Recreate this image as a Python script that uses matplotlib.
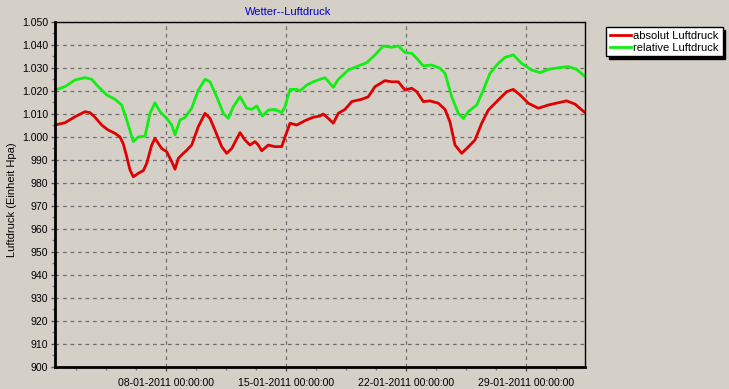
import numpy as np
import matplotlib
matplotlib.use("Agg")
import matplotlib.pyplot as plt
import matplotlib.dates as mdates
from matplotlib.ticker import FuncFormatter, MultipleLocator, FixedLocator
from datetime import datetime

# Data: day of January 2011 (fractional), pressure in hPa
abs_days = [1.525, 2.108, 2.692, 3.275, 3.567, 3.858, 4.249, 4.634, 5.025, 5.317,
            5.509, 5.708, 5.9, 6.093, 6.384, 6.676, 6.874, 7.166, 7.358, 7.551,
            7.749, 8.041, 8.333, 8.525, 8.718, 9.009, 9.108, 9.499, 9.884, 10.275,
            10.567, 10.858, 11.249, 11.541, 11.833, 12.317, 12.608, 12.9, 13.192, 13.384,
            13.583, 13.968, 14.358, 14.749, 14.942, 15.233, 15.624, 16.108, 16.593, 16.983,
            17.176, 17.467, 17.759, 18.051, 18.442, 18.833, 19.416, 19.801, 20.192, 20.775,
            21.166, 21.551, 21.942, 22.333, 22.625, 23.01, 23.4, 23.885, 24.275, 24.567,
            24.858, 25.249, 25.541, 26.025, 26.416, 26.801, 27.384, 27.874, 28.259, 28.65,
            29.134, 29.718, 30.301, 30.884, 31.375, 31.858, 32.442]
abs_vals = [1005.2, 1006.2, 1008.8, 1011.0, 1010.6, 1008.6, 1005.2, 1003.0, 1001.6, 1000.0,
            997.0, 991.5, 985.7, 982.7, 984.2, 985.4, 988.5, 996.5, 999.4, 997.2,
            995.0, 993.6, 989.3, 986.0, 990.7, 992.9, 993.5, 996.5, 1004.5, 1010.3,
            1008.1, 1003.0, 995.8, 992.9, 995.0, 1001.9, 998.7, 996.5, 998.0, 996.5,
            994.0, 996.5, 995.8, 995.8, 1000.0, 1006.0, 1005.2, 1007.1, 1008.6, 1009.1,
            1010.0, 1008.1, 1006.0, 1010.3, 1012.0, 1015.4, 1016.4, 1017.5, 1021.9, 1024.5,
            1024.0, 1024.0, 1020.4, 1021.2, 1019.7, 1015.4, 1015.7, 1014.7, 1012.0, 1006.5,
            996.5, 992.9, 995.0, 998.7, 1006.0, 1011.7, 1016.1, 1019.7, 1020.7, 1018.3,
            1014.7, 1012.5, 1013.9, 1014.9, 1015.7, 1014.3, 1010.6]

rel_days = [1.525, 2.108, 2.692, 3.275, 3.666, 4.05, 4.541, 5.025, 5.416, 5.708,
            6.093, 6.384, 6.775, 7.067, 7.358, 7.65, 8.041, 8.333, 8.525, 8.817,
            9.108, 9.499, 9.884, 10.275, 10.567, 10.958, 11.343, 11.634, 11.926, 12.317,
            12.708, 12.999, 13.291, 13.618, 13.968, 14.358, 14.749, 14.942, 15.233, 15.624,
            15.817, 16.208, 16.593, 16.983, 17.275, 17.567, 17.759, 18.051, 18.634, 19.218,
            19.708, 20.192, 20.676, 21.166, 21.551, 21.942, 22.333, 22.625, 23.01, 23.5,
            23.984, 24.275, 24.666, 25.051, 25.342, 25.634, 26.124, 26.509, 26.9, 27.384,
            27.775, 28.259, 28.749, 29.333, 29.817, 30.301, 30.884, 31.468, 31.958, 32.442]
rel_vals = [1020.4, 1021.9, 1024.8, 1025.8, 1025.1, 1021.9, 1018.3, 1016.4, 1013.9, 1007.4,
            998.0, 1000.0, 1000.4, 1010.3, 1014.9, 1011.0, 1008.1, 1005.2, 1000.9, 1007.4,
            1008.5, 1012.5, 1020.4, 1025.1, 1024.0, 1017.5, 1010.3, 1008.1, 1013.2, 1017.5,
            1012.5, 1012.0, 1013.5, 1009.1, 1011.7, 1012.0, 1010.6, 1013.2, 1020.7, 1020.7,
            1020.0, 1022.6, 1024.0, 1025.1, 1025.8, 1023.3, 1021.6, 1025.1, 1029.1, 1030.9,
            1032.3, 1035.7, 1039.6, 1039.0, 1039.6, 1036.7, 1036.4, 1034.2, 1030.9, 1031.3,
            1029.9, 1027.7, 1017.5, 1010.3, 1008.1, 1011.0, 1013.9, 1020.4, 1027.7, 1032.0,
            1034.6, 1035.7, 1032.0, 1029.1, 1028.0, 1029.4, 1030.1, 1030.6, 1029.4, 1026.3]

series_names = ["absolut Luftdruck", "relative Luftdruck"]
major_days = [8, 15, 22, 29]

BG = "#d4d0c8"
base = mdates.date2num(datetime(2011, 1, 1)) - 1

def to_num(days):
    return base + np.asarray(days)

plt.rcParams['font.family'] = ['Liberation Sans', 'DejaVu Sans']

fig = plt.figure(figsize=(7.29, 3.89), dpi=100, facecolor=BG)
ax = fig.add_axes([55 / 729, 1 - 367 / 389, 530 / 729, 345 / 389])
ax.set_facecolor(BG)

ax.plot(to_num(abs_days), abs_vals, color="#e00000", linewidth=2, label=series_names[0])
ax.plot(to_num(rel_days), rel_vals, color="#11ee11", linewidth=2, label=series_names[1])

ax.set_xlim(to_num(abs_days[0]), to_num(abs_days[-1]))
ax.set_ylim(900, 1050)

# y axis
ax.yaxis.set_major_locator(MultipleLocator(10))
ax.yaxis.set_minor_locator(MultipleLocator(5))
ax.yaxis.set_major_formatter(FuncFormatter(lambda v, p: f"{v:,.0f}".replace(",", ".")))

# x axis
ax.xaxis.set_major_locator(FixedLocator(to_num(major_days)))
minor = to_num(8) + 1.75 * np.arange(-4, 15)
ax.xaxis.set_minor_locator(FixedLocator(minor))
ax.xaxis.set_major_formatter(mdates.DateFormatter("%d-%m-%Y %H:%M:%S"))

ax.tick_params(which="major", length=3, width=1, color="#555555", labelsize=7.6)
ax.tick_params(axis="x", which="major", pad=5)
ax.tick_params(axis="y", which="major", pad=2)
ax.tick_params(which="minor", length=2, width=1, color="#777777")

ax.grid(True, which="major", color="#707070", linestyle=(0, (3, 3)), linewidth=0.9)

for side in ["left", "bottom"]:
    ax.spines[side].set_linewidth(2)
for side in ["top", "right"]:
    ax.spines[side].set_linewidth(1)

fig.text(12 / 729, 1 - 200 / 389, "Luftdruck (Einheit Hpa)", fontsize=8,
         rotation=90, ha="center", va="center")

fig.text(288 / 729, 1 - 12 / 389, "Wetter--Luftdruck", color="#0000c0",
         fontsize=8, ha="center", va="center")

leg = ax.legend(loc="upper left", bbox_to_anchor=(606 / 729, 1 - 27 / 389),
                bbox_transform=fig.transFigure, fontsize=8, frameon=True,
                fancybox=False, framealpha=1, edgecolor="black",
                handlelength=1.9, handletextpad=0.2, borderpad=0.35,
                labelspacing=0.15, borderaxespad=0,
                shadow={"color": "black", "alpha": 1})
leg.get_frame().set_linewidth(1)

fig.savefig("out.png", dpi=100, facecolor=BG)
